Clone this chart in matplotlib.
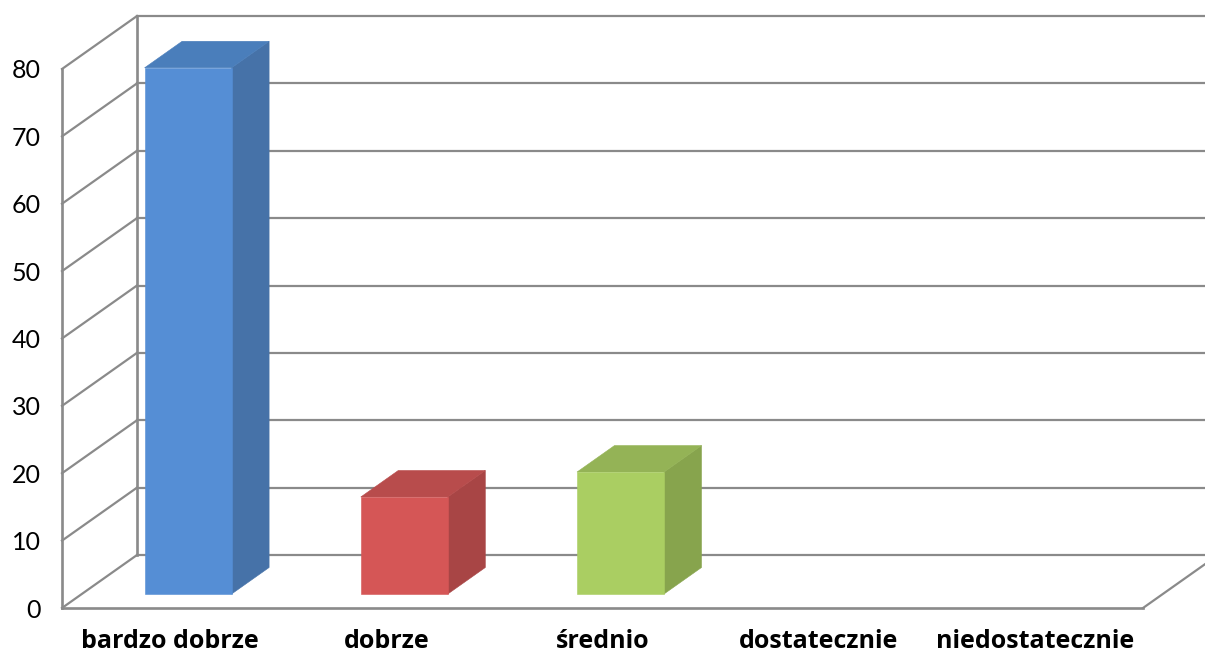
import matplotlib
matplotlib.use("Agg")
import matplotlib.pyplot as plt
from matplotlib.patches import Polygon

categories = ["bardzo dobrze", "dobrze", "średnio", "dostatecznie", "niedostatecznie"]
values = [78.1, 14.4, 18.1]
bar_colors = [("#558ED5", "#4A7EBB", "#4672A8"),
              ("#D55656", "#B84C4C", "#A84545"),
              ("#AACE62", "#94B356", "#87A44D")]
y_ticks = list(range(0, 90, 10))

W, H = 1205, 652
L, R, T, B = 62, 1143, 69, 608
fig = plt.figure(figsize=(W / 100, H / 100), dpi=100, facecolor="white")
ax = fig.add_axes([L / W, 1 - B / H, (R - L) / W, (B - T) / H])
ax.set_xlim(-0.5, 4.5)
ax.set_ylim(0, 80)
for s in ax.spines.values():
    s.set_visible(False)
ax.patch.set_visible(False)

px = 5 / (R - L)      # category units per pixel
py = 80 / (B - T)     # value units per pixel
DX, DY = 75 * px, 53 * py          # wall depth
GRID = "#8A8A8A"
lw = 1.6


def line(xs, ys, z=1, w=lw):
    ax.plot(xs, ys, color=GRID, lw=w, clip_on=False, zorder=z, solid_capstyle="projecting")


x0, x1 = -0.5, 4.5
for v in y_ticks:
    line([x0, x0 + DX], [v, v + DY])
    line([x0 + DX, x1 + DX], [v + DY, v + DY])
line([x0, x0], [0, 80], w=lw * 1.2)
line([x0 + DX, x0 + DX], [DY, 80 + DY], w=lw * 1.2)
line([x0, x1], [0, 0], w=lw * 1.2)
line([x1, x1 + DX], [0, DY])

bw = 87 * px
bdx, bdy = 37.5 * px, 26.5 * py
shift_x, shift_y = 18 * px, 14 * py
for i, (v, (front, top, side)) in enumerate(zip(values, bar_colors)):
    xl = i - bw / 2 + shift_x
    xr = xl + bw
    y0 = shift_y
    y1 = shift_y + v
    kw = dict(clip_on=False, zorder=3, linewidth=0.4)
    ax.add_patch(Polygon([(xr, y0), (xr + bdx, y0 + bdy), (xr + bdx, y1 + bdy), (xr, y1)],
                         facecolor=side, edgecolor=side, **kw))
    ax.add_patch(Polygon([(xl, y1), (xr, y1), (xr + bdx, y1 + bdy), (xl + bdx, y1 + bdy)],
                         facecolor=top, edgecolor=top, **kw))
    ax.add_patch(Polygon([(xl, y0), (xr, y0), (xr, y1), (xl, y1)],
                         facecolor=front, edgecolor=front, **kw))

ax.set_xticks(range(len(categories)))
ax.set_xticklabels(categories, fontfamily="Open Sans", fontweight="bold", fontsize=18, color="black")
ax.set_yticks(y_ticks)
ax.set_yticklabels([str(v) for v in y_ticks], fontfamily="Lato", fontsize=18, color="black")
ax.tick_params(axis="x", length=0, pad=15)
ax.tick_params(axis="y", length=0, pad=15.5)

fig.savefig("out.png", dpi=100, facecolor="white")
